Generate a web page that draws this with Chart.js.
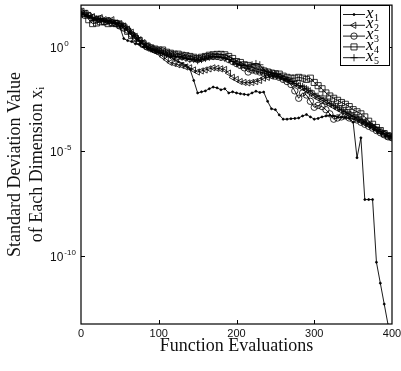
<!DOCTYPE html>
<html>
<head>
<meta charset="utf-8">
<script src="https://cdn.jsdelivr.net/npm/chart.js@4.4.1/dist/chart.umd.min.js"></script>
<style>
  html, body { margin: 0; padding: 0; background: #fff; }
  canvas { display: block; }
</style>
</head>
<body>
<canvas id="sdChart" width="401" height="371"></canvas>
<script>
// function evaluations (x values shared by all series)
const evals = [0, 5, 10, 15, 20, 25, 30, 35, 40, 45, 50, 55, 60, 65, 70, 75, 80, 85, 90, 95,
  100, 105, 110, 115, 120, 125, 130, 135, 140, 145, 150, 155, 160, 165, 170, 175, 180, 185, 190, 195,
  200, 205, 210, 215, 220, 225, 230, 235, 240, 245, 250, 255, 260, 265, 270, 275, 280, 285, 290, 295,
  300, 305, 310, 315, 320, 325, 330, 335, 340, 345, 350, 355, 360, 365, 370, 375, 380, 385, 390, 395, 400];

// standard deviation per dimension
const x1Vals = [40, 32, 28, 22, 20, 20, 18, 16, 14, 13,
  8.9, 2.5, 2.0, 1.8, 1.4, 1.3, 1.0, 0.89, 0.71, 0.63,
  0.56, 0.5, 0.4, 0.32, 0.25, 0.2, 0.16, 0.13, 8.9e-2, 2.5e-2,
  6.3e-3, 7.1e-3, 7.9e-3, 1.0e-2, 1.2e-2, 1.1e-2, 8.9e-3, 1.0e-2, 6.3e-3, 7.1e-3,
  6.3e-3, 5.8e-3, 5.4e-3, 5.1e-3, 6.3e-3, 7.6e-3, 6.6e-3, 6.9e-3, 2.5e-3, 1.1e-3,
  1.0e-3, 5.6e-4, 3.5e-4, 3.5e-4, 3.7e-4, 3.8e-4, 4.0e-4, 5.0e-4, 5.8e-4, 4.5e-4,
  3.5e-4, 3.8e-4, 4.5e-4, 5.0e-4, 5.4e-4, 5.0e-4, 4.5e-4, 4.3e-4, 4.2e-4, 3.8e-4,
  2.5e-4, 5.0e-6, 4.5e-5, 5.0e-8, 5.0e-8, 5.0e-8, 5.0e-11, 5.0e-12, 5.0e-13, 5.0e-14,
  5.0e-15];
const x2Vals = [35, 40, 32, 28, 22, 25, 20, 18, 20, 14,
  13, 10, 7.1, 5.0, 3.2, 2.2, 1.6, 1.1, 0.79, 0.63,
  0.5, 0.35, 0.25, 0.18, 0.16, 0.14, 0.13, 0.11, 0.1, 0.079,
  0.063, 0.071, 0.079, 0.089, 0.1, 0.095, 0.089, 0.083, 0.056, 0.035,
  0.028, 0.022, 0.02, 0.019, 0.02, 0.022, 0.025, 0.032, 0.035, 0.04,
  0.042, 0.038, 0.032, 0.026, 0.022, 0.018, 0.014, 0.011, 8.9e-3, 6.3e-3,
  4.5e-3, 3.5e-3, 2.8e-3, 2.2e-3, 1.8e-3, 1.4e-3, 1.1e-3, 8.9e-4, 7.6e-4, 6.0e-4,
  4.5e-4, 3.5e-4, 2.8e-4, 2.2e-4, 1.8e-4, 1.4e-4, 1.1e-4, 8.9e-5, 7.1e-5, 5.6e-5,
  5.0e-5];
const x3Vals = [45, 32, 32, 25, 20, 22, 16, 18, 14, 13,
  10, 7.9, 6.3, 4.0, 2.8, 1.8, 1.3, 1.0, 0.89, 0.71,
  0.63, 0.63, 0.5, 0.45, 0.4, 0.35, 0.35, 0.32, 0.28, 0.28,
  0.25, 0.28, 0.32, 0.35, 0.35, 0.35, 0.32, 0.32, 0.25, 0.2,
  0.16, 0.13, 0.1, 0.063, 0.079, 0.071, 0.063, 0.056, 0.05, 0.045,
  0.04, 0.035, 0.028, 0.022, 0.016, 7.9e-3, 3.5e-3, 6.3e-3, 5.0e-3, 2.5e-3,
  1.3e-3, 1.6e-3, 1.4e-3, 1.0e-3, 6.3e-4, 3.5e-4, 4.0e-4, 4.5e-4, 5.0e-4, 4.0e-4,
  3.5e-4, 3.2e-4, 2.5e-4, 2.0e-4, 1.6e-4, 1.3e-4, 1.0e-4, 7.9e-5, 6.3e-5, 5.0e-5,
  4.5e-5];
const x4Vals = [50, 40, 20, 13, 14, 16, 16, 13, 14, 13,
  11, 8.9, 5.6, 3.5, 2.5, 2.0, 1.4, 1.1, 0.89, 0.79,
  0.71, 0.71, 0.56, 0.5, 0.45, 0.45, 0.4, 0.38, 0.35, 0.32,
  0.28, 0.32, 0.35, 0.4, 0.42, 0.44, 0.44, 0.42, 0.35, 0.28,
  0.2, 0.18, 0.14, 0.13, 0.11, 0.089, 0.079, 0.071, 0.063, 0.056,
  0.052, 0.05, 0.04, 0.035, 0.032, 0.032, 0.035, 0.032, 0.028, 0.032,
  0.02, 0.014, 0.01, 6.3e-3, 4.5e-3, 3.5e-3, 2.8e-3, 2.2e-3, 1.8e-3, 1.4e-3,
  1.0e-3, 7.9e-4, 6.3e-4, 4.5e-4, 2.8e-4, 2.0e-4, 1.4e-4, 1.0e-4, 7.1e-5, 5.6e-5,
  5.0e-5];
const x5Vals = [40, 35, 32, 25, 22, 20, 16, 18, 16, 14,
  13, 10, 7.1, 4.5, 3.2, 2.0, 1.4, 1.0, 0.79, 0.71,
  0.63, 0.5, 0.45, 0.4, 0.35, 0.35, 0.32, 0.28, 0.25, 0.25,
  0.22, 0.25, 0.28, 0.32, 0.35, 0.35, 0.32, 0.28, 0.25, 0.2,
  0.16, 0.14, 0.13, 0.11, 0.14, 0.16, 0.14, 0.079, 0.063, 0.056,
  0.05, 0.04, 0.032, 0.028, 0.022, 0.018, 0.014, 0.013, 0.01, 7.9e-3,
  5.6e-3, 4.5e-3, 3.5e-3, 2.8e-3, 2.0e-3, 1.6e-3, 1.3e-3, 1.0e-3, 7.9e-4, 6.3e-4,
  5.0e-4, 4.0e-4, 3.2e-4, 2.5e-4, 2.0e-4, 1.6e-4, 1.1e-4, 8.9e-5, 7.1e-5, 5.6e-5,
  5.0e-5];

const seriesSubs = ["1", "2", "3", "4", "5"];
const xTicks = [0, 100, 200, 300, 400];
const yTicks = [1e-10, 1e-5, 1];
const yTickPowers = ["-10", "-5", "0"];

const markerStyles = [
  { pointStyle: "circle", radius: 1, rotation: 0, fill: "#000" },
  { pointStyle: "triangle", radius: 3.6, rotation: -90, fill: "transparent" },
  { pointStyle: "circle", radius: 3.2, rotation: 0, fill: "transparent" },
  { pointStyle: "rect", radius: 4.3, rotation: 0, fill: "transparent" },
  { pointStyle: "cross", radius: 3.6, rotation: 0, fill: "transparent" }
];

const allVals = [x1Vals, x2Vals, x3Vals, x4Vals, x5Vals];

const datasets = allVals.map((vals, k) => ({
  label: "x" + seriesSubs[k],
  data: vals.map((v, i) => ({ x: evals[i], y: v })),
  borderColor: "#000",
  borderWidth: 0.9,
  pointStyle: markerStyles[k].pointStyle,
  pointRadius: markerStyles[k].radius,
  pointRotation: markerStyles[k].rotation,
  pointBackgroundColor: markerStyles[k].fill,
  pointBorderColor: "#000",
  pointBorderWidth: 0.8,
  tension: 0,
  order: 4 - k
}));

// box, inward ticks, y tick labels with exponents, legend
const framePlugin = {
  id: "frame",
  afterDraw(chart) {
    const ctx = chart.ctx;
    const a = chart.chartArea;
    const xs = chart.scales.x, ys = chart.scales.y;
    ctx.save();
    ctx.strokeStyle = "#000";
    ctx.lineWidth = 1.2;
    ctx.strokeRect(a.left, a.top, a.right - a.left, a.bottom - a.top);

    ctx.lineWidth = 1;
    xTicks.slice(1, -1).forEach(v => {
      const px = Math.round(xs.getPixelForValue(v)) + 0.5;
      ctx.beginPath();
      ctx.moveTo(px, a.bottom); ctx.lineTo(px, a.bottom - 4);
      ctx.moveTo(px, a.top); ctx.lineTo(px, a.top + 4);
      ctx.stroke();
    });
    yTicks.forEach((v, i) => {
      const py = Math.round(ys.getPixelForValue(v)) + 0.5;
      ctx.beginPath();
      ctx.moveTo(a.left, py); ctx.lineTo(a.left + 4, py);
      ctx.moveTo(a.right, py); ctx.lineTo(a.right - 4, py);
      ctx.stroke();

      ctx.fillStyle = "#111";
      ctx.textBaseline = "middle";
      ctx.textAlign = "left";
      ctx.font = '12px "Liberation Sans", Arial';
      ctx.fillText("10", 50, py + 1.5);
      const w = ctx.measureText("10").width;
      ctx.font = '8px "Liberation Sans", Arial';
      ctx.fillText(yTickPowers[i], 50 + w + 1, py - 4);
    });

    // legend
    const lx = 340, ly = 5, lw = 49, lh = 60;
    ctx.fillStyle = "#fff";
    ctx.fillRect(lx, ly, lw, lh);
    ctx.lineWidth = 1;
    ctx.strokeRect(lx + 0.5, ly + 0.5, lw, lh);
    seriesSubs.forEach((s, k) => {
      const y = ly + 9.5 + k * 10.8;
      ctx.strokeStyle = "#000";
      ctx.lineWidth = 0.9;
      ctx.beginPath();
      ctx.moveTo(lx + 3, y); ctx.lineTo(lx + 25, y);
      ctx.stroke();
      const m = markerStyles[k];
      ctx.fillStyle = m.fill === "transparent" ? "rgba(0,0,0,0)" : m.fill;
      ctx.lineWidth = 0.8;
      Chart.helpers.drawPoint(ctx, { pointStyle: m.pointStyle, radius: m.radius, rotation: m.rotation, borderWidth: 0.8 }, lx + 14, y);
      ctx.fillStyle = "#000";
      ctx.textBaseline = "alphabetic";
      ctx.font = 'italic 17px "Liberation Serif", serif';
      ctx.fillText("x", lx + 26, y + 3);
      const xw = ctx.measureText("x").width;
      ctx.font = '10px "Liberation Serif", serif';
      ctx.fillText(s, lx + 26 + xw + 0.5, y + 6);
    });
    ctx.restore();
  }
};

const ctx = document.getElementById("sdChart").getContext("2d");
const sdChart = new Chart(ctx, {
  type: "line",
  data: { datasets: datasets },
  options: {
    responsive: false,
    animation: false,
    devicePixelRatio: 1,
    layout: { padding: { top: 3, right: 9, left: 0, bottom: 0 } },
    plugins: {
      legend: { display: false },
      tooltip: { enabled: false }
    },
    scales: {
      x: {
        type: "linear",
        min: 0,
        max: 400,
        grid: { display: false, drawTicks: false },
        border: { display: false },
        afterBuildTicks: scale => { scale.ticks = xTicks.map(v => ({ value: v })); },
        afterFit: scale => { scale.height = 47; scale.paddingLeft = 0; scale.paddingRight = 0; },
        ticks: {
          color: "#111",
          font: { family: '"Liberation Sans", Arial', size: 11 },
          padding: 3,
          maxRotation: 0,
          autoSkip: false
        },
        title: {
          display: true,
          text: "Function Evaluations",
          color: "#111",
          font: { family: '"Liberation Serif", serif', size: 18, lineHeight: 1.25 },
          padding: { top: 0, bottom: 13 }
        }
      },
      y: {
        type: "logarithmic",
        min: 5.6e-14,
        max: 100,
        grid: { display: false, drawTicks: false },
        border: { display: false },
        afterBuildTicks: scale => { scale.ticks = yTicks.map(v => ({ value: v })); },
        afterFit: scale => { scale.width = 81; scale.paddingTop = 0; scale.paddingBottom = 0; },
        ticks: { display: false },
        title: {
          display: true,
          text: ["Standard Deviation Value", "of Each Dimension xᵢ"],
          color: "#111",
          font: { family: '"Liberation Serif", serif', size: 18, lineHeight: 1.22 },
          padding: { top: 4, bottom: 0 }
        }
      }
    }
  },
  plugins: [framePlugin]
});
</script>
</body>
</html>
